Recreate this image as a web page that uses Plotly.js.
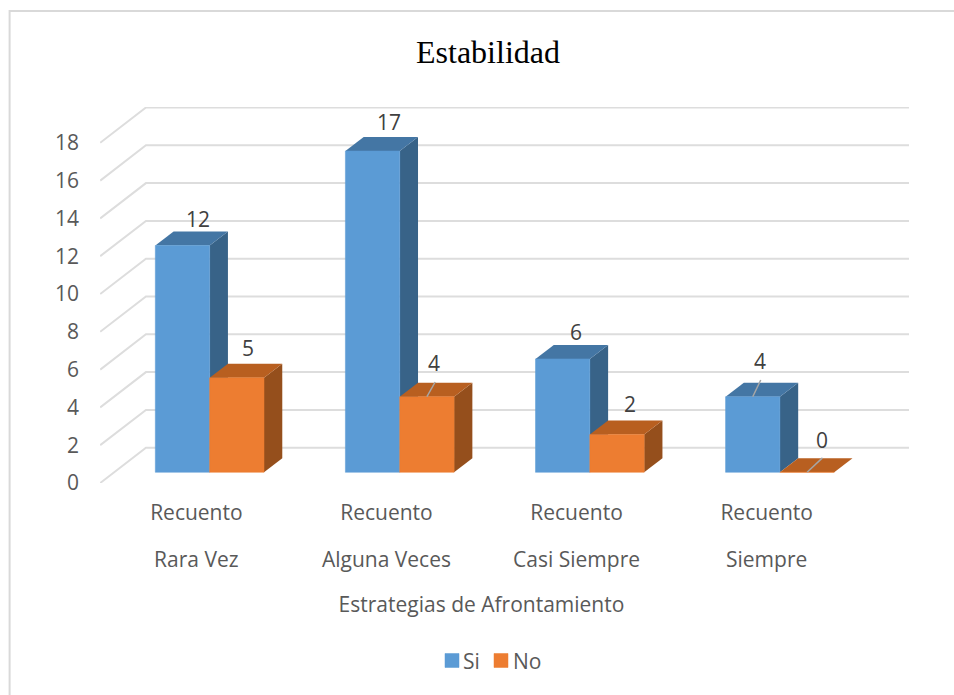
<!DOCTYPE html>
<html>
<head>
<meta charset="utf-8">
<script src="https://cdn.plot.ly/plotly-3.0.1.min.js"></script>
<style>html,body{margin:0;padding:0;background:#fff}#chart{width:954px;height:695px}</style>
</head>
<body>
<div id="chart"></div>
<script>
// Data
const groupLabels = ["Rara Vez", "Alguna Veces", "Casi Siempre", "Siempre"];
const rowLabel = "Recuento";
const siValues = [12, 17, 6, 4];
const noValues = [5, 4, 2, 0];
const yTicks = [0, 2, 4, 6, 8, 10, 12, 14, 16, 18];

// Pixel scale of the drawing, used to express the 3D depth in axis units
const pxX = 190.3, pxY = 18.9;
const gridDX = 46 / pxX, gridDY = 35.3 / pxY;      // wall depth
const barDX = 18.3 / pxX, barDY = 14 / pxY;        // bar depth
const barW = 54.4 / pxX, barBase = 10.7 / pxY, barShift = 13.3 / pxX;

const xIdx = groupLabels.map((_, i) => i);
const xMin = -0.507, xMax = 3.749, floorMax = 3.507;
const FONT = "'Open Sans', sans-serif";

const poly = (pts, fill) => ({
  type: "path", xref: "x", yref: "y", layer: "below",
  path: pts.map((p, i) => (i ? "L" : "M") + p[0] + "," + p[1]).join(" ") + " Z",
  fillcolor: fill, line: {width: 0}
});

// Gridlines: floor-to-wall diagonal plus back wall line
const gridShapes = yTicks.map(v => ({
  type: "path", xref: "x", yref: "y", layer: "below",
  path: `M${xMin + 0.001},${v} L${xMin + gridDX},${v + gridDY} L${xMax},${v + gridDY}`,
  line: {color: "#DDDDDD", width: 2}
}));

// Side and top faces of a bar
function faces(x0, v, topC, sideC) {
  const x1 = x0 + barW, b = barBase, t = barBase + v;
  return [
    poly([[x1, b], [x1 + barDX, b + barDY], [x1 + barDX, t + barDY], [x1, t]], sideC),
    poly([[x0, t], [x1, t], [x1 + barDX, t + barDY], [x0 + barDX, t + barDY]], topC)
  ];
}
const siShapes = siValues.flatMap((v, i) => faces(i + barShift - barW, v, "#4476A4", "#386388"));
const noShapes = noValues.flatMap((v, i) => faces(i + barShift, v, "#B85F20", "#954F1C"));

// Value labels: pixel nudges from the centre of each bar's front top
const siNudge = [[16, 27], [16.5, 29], [13.5, 27], [7, 36]];
const noNudge = [[11, 30], [7.5, 34], [13, 31], [14.5, 32]];
const labelFont = {family: FONT, size: 21, color: "#404040"};
const labels = (vals, x0, nudge) => vals.map((v, i) => ({
  x: i + x0, y: v + barBase, xref: "x", yref: "y", text: String(v), showarrow: false,
  xanchor: "center", yanchor: "middle", xshift: nudge[i][0], yshift: nudge[i][1], font: labelFont
}));

// Leader lines for the labels sitting over a bar
const leaders = [
  {x: 1 + barShift + barW / 2, v: noValues[1], dx: 8.3, dy: 14.7},
  {x: 3 + barShift - barW / 2, v: siValues[3], dx: 8, dy: 16.7},
  {x: 3 + barShift + barW / 2, v: noValues[3], dx: 15.4, dy: 14.4}
];
const leaderX = [], leaderY = [];
leaders.forEach(l => {
  leaderX.push(l.x, l.x + l.dx / pxX, null);
  leaderY.push(l.v + barBase, l.v + barBase + l.dy / pxY, null);
});

const barTrace = (name, vals, off, color) => ({
  type: "bar", name, x: xIdx, y: vals, base: vals.map(() => barBase),
  width: barW, offset: off, marker: {color, line: {color, width: 0.5}}, hoverinfo: "y+name"
});

const traces = [
  barTrace("Si", siValues, barShift - barW, "#5B9BD5"),
  barTrace("No", noValues, barShift, "#ED7D31"),
  {type: "scatter", mode: "lines", x: leaderX, y: leaderY, xaxis: "x2", showlegend: false, hoverinfo: "skip",
   line: {color: "#A6A6A6", width: 1.5}}
];

const axisFont = {family: FONT, size: 21, color: "#595959"};
const layout = {
  width: 954, height: 695,
  margin: {l: 99.5, r: 44.5, t: 107, b: 212, autoexpand: false},
  paper_bgcolor: "#fff", plot_bgcolor: "rgba(0,0,0,0)",
  font: axisFont,
  title: {text: "Estabilidad", font: {family: "'Liberation Serif', serif", size: 32, color: "#000"},
          x: 488 / 954, xref: "container", xanchor: "center", y: 1 - 52 / 695, yref: "container", yanchor: "middle"},
  barmode: "overlay",
  showlegend: true,
  legend: {orientation: "h", x: 0.486, xanchor: "center", y: -0.473, yanchor: "middle", xref: "paper", yref: "paper",
           font: axisFont, bgcolor: "rgba(0,0,0,0)", traceorder: "normal"},
  xaxis: {
    type: "linear", range: [xMin, xMax], tickmode: "array", tickvals: xIdx,
    ticktext: xIdx.map(() => rowLabel), tickfont: axisFont,
    showgrid: false, zeroline: false, showline: false, ticks: "", ticklabelstandoff: 15
  },
  xaxis2: {
    type: "linear", anchor: "y", domain: [0, (floorMax - xMin) / (xMax - xMin)], range: [xMin, floorMax],
    tickmode: "array", tickvals: xIdx, ticktext: groupLabels, tickfont: axisFont,
    showgrid: false, zeroline: false, showline: false, ticks: "", ticklabelstandoff: 62,
    title: {text: "Estrategias de Afrontamiento", standoff: 25, font: axisFont}
  },
  yaxis: {
    range: [0, 376 / pxY], tickmode: "array", tickvals: yTicks, tickfont: axisFont,
    showgrid: false, zeroline: false, showline: false, ticks: "", ticklabelstandoff: 20
  },
  shapes: [
    ...gridShapes, ...siShapes, ...noShapes,
    {type: "rect", xref: "paper", yref: "paper", x0: (9 - 99.5) / 810, x1: 1.2, y0: -1, y1: (483 - 11) / 376, layer: "below",
     fillcolor: "rgba(0,0,0,0)", line: {color: "#D9D9D9", width: 2}}
  ],
  annotations: [...labels(siValues, barShift - barW / 2, siNudge), ...labels(noValues, barShift + barW / 2, noNudge)]
};

// Legend keys sit tight against their text in the reference
const legendKeyCentres = [452, 501], legendTextX = [31, 32];
Plotly.newPlot("chart", traces, layout, {displayModeBar: false, responsive: false}).then(() => {
  document.querySelectorAll(".legend .traces").forEach((g, i) => {
    const key = g.querySelector(".legendundefined, .legendbar path, path");
    const box = key.getBoundingClientRect();
    const delta = legendKeyCentres[i] - (box.left + box.width / 2);
    const m = /translate\(([-\d.]+),\s*([-\d.]+)\)/.exec(g.getAttribute("transform"));
    g.setAttribute("transform", `translate(${+m[1] + delta},${m[2]})`);
    key.setAttribute("d", "M7,7H-7V-7H7Z");
    g.querySelector(".legendtext").setAttribute("x", legendTextX[i]);
  });
  const clip = document.querySelector(".legend .scrollbox");
  if (clip) clip.removeAttribute("clip-path");
});
</script>
</body>
</html>
